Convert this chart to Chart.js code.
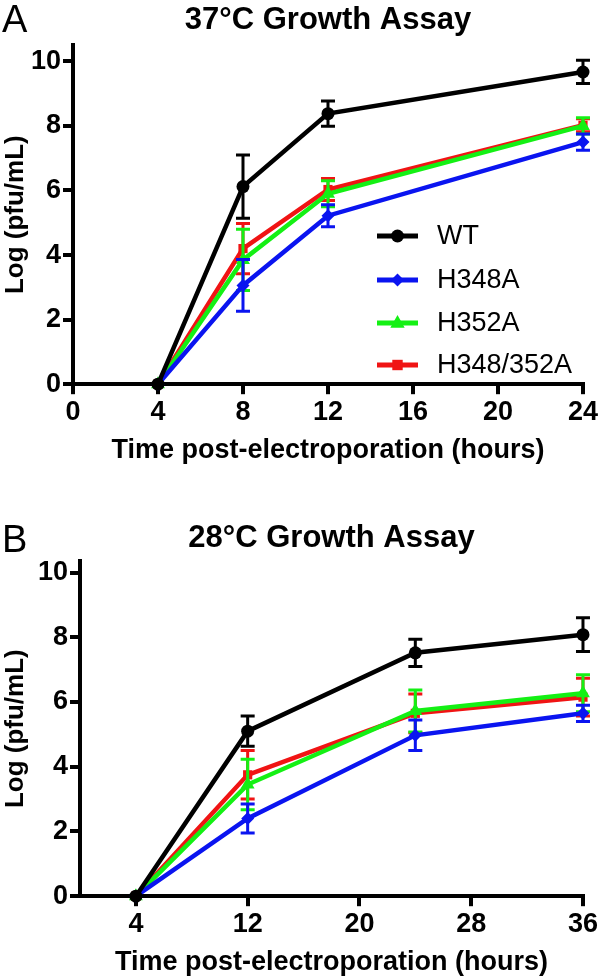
<!DOCTYPE html>
<html>
<head>
<meta charset="utf-8">
<script src="https://cdn.jsdelivr.net/npm/chart.js@4.4.1/dist/chart.umd.min.js"></script>
<style>
  body { margin: 0; background: #fff; }
  #page { position: relative; width: 600px; height: 979px; overflow: hidden; font-family: 'Liberation Sans', Arial, sans-serif; }
  .panel { position: absolute; left: 0; width: 600px; }
  .letter { position: absolute; left: 2px; font-size: 38px; line-height: 38px; color: #000; }
</style>
</head>
<body>
<div id="page">
  <div class="panel" style="top:0;height:480px"><canvas id="chartA"></canvas></div>
  <div class="panel" style="top:478px;height:501px"><canvas id="chartB"></canvas></div>
  <div class="letter" style="top:0px">A</div>
  <div class="letter" style="top:520px">B</div>
</div>
<script>
// series names, colours and markers
var seriesNames = ['WT', 'H348A', 'H352A', 'H348/352A'];
var seriesColors = ['#000000', '#0a14f0', '#14f014', '#f01414'];
var seriesMarkers = ['circle', 'rectRot', 'triangle', 'rect'];

// panel A: 37 C
var timesA = [4, 8, 12, 24];
var wtA = [0, 6.12, 8.38, 9.67];
var wtAErr = [0, 0.98, 0.39, 0.36];
var h348A_A = [0, 3.06, 5.22, 7.5];
var h348A_AErr = [0, 0.8, 0.34, 0.25];
var h352A_A = [0, 3.85, 5.9, 8.0];
var h352A_AErr = [0, 0.95, 0.4, 0.25];
var dblA = [0, 4.2, 6.03, 8.02];
var dblAErr = [0, 0.78, 0.34, 0.2];
var xTicksA = [0, 4, 8, 12, 16, 20, 24];

// panel B: 28 C
var timesB = [4, 12, 24, 36];
var wtB = [0, 5.1, 7.52, 8.08];
var wtBErr = [0, 0.47, 0.42, 0.52];
var h348A_B = [0, 2.4, 4.97, 5.65];
var h348A_BErr = [0, 0.45, 0.47, 0.25];
var h352A_B = [0, 3.45, 5.72, 6.27];
var h352A_BErr = [0, 0.78, 0.65, 0.57];
var dblB = [0, 3.75, 5.65, 6.15];
var dblBErr = [0, 0.75, 0.6, 0.58];
var xTicksB = [4, 12, 20, 28, 36];

var yTicks = [0, 2, 4, 6, 8, 10];

var FONT = "'Liberation Sans', Arial, sans-serif";
Chart.defaults.font.family = FONT;
Chart.defaults.color = '#000';

function drawMarker(ctx, style, x, y, r) {
  ctx.beginPath();
  if (style === 'circle') {
    ctx.arc(x, y, r, 0, Math.PI * 2);
  } else if (style === 'rectRot') {
    ctx.moveTo(x, y - r); ctx.lineTo(x + r, y); ctx.lineTo(x, y + r); ctx.lineTo(x - r, y);
  } else if (style === 'triangle') {
    ctx.moveTo(x, y - r); ctx.lineTo(x + r * 0.9, y + r * 0.6); ctx.lineTo(x - r * 0.9, y + r * 0.6);
  } else {
    ctx.rect(x - r * 0.8, y - r * 0.8, r * 1.6, r * 1.6);
  }
  ctx.closePath();
  ctx.fill();
}

// vertical error bars, drawn with each dataset
var errorBarPlugin = {
  id: 'errorBars',
  afterDatasetDraw: function (chart, args) {
    var ds = chart.data.datasets[args.index];
    if (!ds.errorBars) return;
    var ctx = chart.ctx, ys = chart.scales.y;
    ctx.save();
    ctx.strokeStyle = ds.borderColor;
    ctx.lineWidth = 3;
    args.meta.data.forEach(function (pt, j) {
      var e = ds.errorBars[j];
      if (!e) return;
      var v = ds.data[j].y;
      var top = ys.getPixelForValue(v + e), bot = ys.getPixelForValue(v - e);
      ctx.beginPath();
      ctx.moveTo(pt.x, top); ctx.lineTo(pt.x, bot);
      ctx.moveTo(pt.x - 7, top); ctx.lineTo(pt.x + 7, top);
      ctx.moveTo(pt.x - 7, bot); ctx.lineTo(pt.x + 7, bot);
      ctx.stroke();
    });
    ctx.restore();
  }
};

// legend inside the plot of panel A
var innerLegend = {
  id: 'innerLegend',
  afterDraw: function (chart, args, opts) {
    var ctx = chart.ctx;
    ctx.save();
    chart.data.datasets.forEach(function (ds, i) {
      var y = opts.rows[i];
      ctx.strokeStyle = ds.borderColor;
      ctx.fillStyle = ds.borderColor;
      ctx.lineWidth = 5;
      ctx.beginPath();
      ctx.moveTo(opts.x0, y); ctx.lineTo(opts.x1, y);
      ctx.stroke();
      drawMarker(ctx, ds.pointStyle, (opts.x0 + opts.x1) / 2, y, ds.pointRadius);
      ctx.fillStyle = '#000';
      ctx.font = '27px ' + FONT;
      ctx.textBaseline = 'middle';
      ctx.fillText(ds.label, opts.textX, y + 1);
    });
    ctx.restore();
  }
};

function buildSets(times, values, errors) {
  return values.map(function (vals, i) {
    return {
      label: seriesNames[i],
      data: times.map(function (t, j) { return { x: t, y: vals[j] }; }),
      errorBars: errors[i],
      borderColor: seriesColors[i],
      backgroundColor: seriesColors[i],
      borderWidth: 4.5,
      pointStyle: seriesMarkers[i],
      pointRadius: seriesMarkers[i] === 'triangle' ? 8 : 6.5,
      pointBorderWidth: 0,
      clip: false,
      tension: 0
    };
  });
}

function makeChart(id, cfg) {
  return new Chart(document.getElementById(id), {
    type: 'line',
    data: { datasets: buildSets(cfg.times, cfg.values, cfg.errors) },
    options: {
      responsive: true,
      maintainAspectRatio: false,
      animation: false,
      layout: { padding: { left: 0, right: cfg.padRight, top: 0, bottom: cfg.padBottom } },
      plugins: {
        legend: { display: false },
        tooltip: { enabled: false },
        title: {
          display: true,
          text: cfg.title,
          fullSize: false,
          font: { size: 31, weight: 'bold' },
          padding: cfg.titlePad,
          color: '#000'
        },
        innerLegend: cfg.legend || false
      },
      scales: {
        x: {
          type: 'linear',
          min: cfg.xMin,
          max: cfg.xMax,
          afterBuildTicks: function (s) { s.ticks = cfg.xTicks.map(function (v) { return { value: v }; }); },
          grid: { drawOnChartArea: false, color: '#000', lineWidth: 4, tickLength: 10 },
          border: { color: '#000', width: 4 },
          ticks: { font: { size: 27, weight: 'bold' }, padding: 2, maxRotation: 0, color: '#000' },
          title: {
            display: true,
            text: 'Time post-electroporation (hours)',
            font: { size: 27, weight: 'bold' },
            padding: { top: 4, bottom: 0 },
            color: '#000'
          }
        },
        y: {
          min: 0,
          max: cfg.yMax,
          afterBuildTicks: function (s) { s.ticks = yTicks.map(function (v) { return { value: v }; }); },
          afterFit: function (s) { s.width = cfg.yWidth; },
          grid: { drawOnChartArea: false, color: '#000', lineWidth: 4, tickLength: 10 },
          border: { color: '#000', width: 4 },
          ticks: { font: { size: 27, weight: 'bold' }, padding: 2, color: '#000' },
          title: {
            display: true,
            text: 'Log (pfu/mL)',
            font: { size: 26, weight: 'bold' },
            padding: { top: 0, bottom: 0 },
            color: '#000'
          }
        }
      }
    },
    plugins: cfg.legend ? [errorBarPlugin, innerLegend] : [errorBarPlugin]
  });
}

makeChart('chartA', {
  title: '37°C Growth Assay',
  times: timesA,
  values: [wtA, h348A_A, h352A_A, dblA],
  errors: [wtAErr, h348A_AErr, h352A_AErr, dblAErr],
  xMin: 0, xMax: 24, xTicks: xTicksA,
  yMax: 10.5, yWidth: 73,
  padRight: 17, padBottom: 13,
  titlePad: { top: 2, bottom: 6 },
  legend: { x0: 377, x1: 418, textX: 437, rows: [236, 280, 323, 365] }
});

makeChart('chartB', {
  title: '28°C Growth Assay',
  times: timesB,
  values: [wtB, h348A_B, h352A_B, dblB],
  errors: [wtBErr, h348A_BErr, h352A_BErr, dblBErr],
  xMin: 0, xMax: 36, xTicks: xTicksB,
  yMax: 10.35, yWidth: 80,
  padRight: 13, padBottom: 0,
  titlePad: { top: 42, bottom: 4 }
});
</script>
</body>
</html>
